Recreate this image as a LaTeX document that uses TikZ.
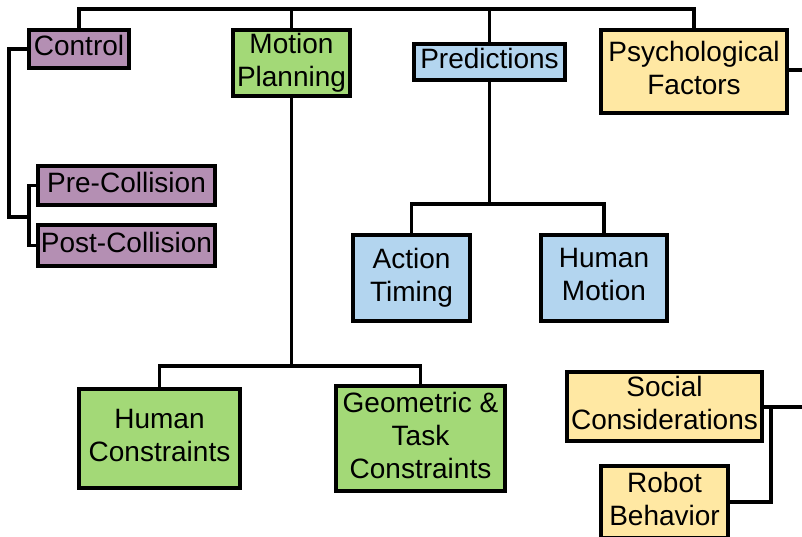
\documentclass[tikz,border=0pt]{standalone}
\usepackage{fontspec}
\setmainfont{Liberation Sans}
\definecolor{cpurple}{HTML}{B48FB3}
\definecolor{cgreen}{HTML}{A3D977}
\definecolor{cblue}{HTML}{B3D5EF}
\definecolor{cyellow}{HTML}{FFE8A3}
\begin{document}
\begin{tikzpicture}[x=1pt,y=-1pt,
  box/.style={draw=black, line width=4.2pt, rectangle, inner sep=0pt, align=center,
    text depth=7pt, font=\fontsize{28}{33}\selectfont},
  link/.style={draw=black, line width=3.6pt}]
\useasboundingbox (0,0) rectangle (802,537);
\node[box, fill=cpurple, minimum width=100pt, minimum height=38pt] (ctrl) at (79,49) {Control};
\node[box, fill=cgreen, minimum width=117pt, minimum height=66pt] (mp) at (291.5,63) {Motion\\Planning};
\node[box, fill=cblue, minimum width=151pt, minimum height=36pt] (pred) at (489.5,62) {Predictions};
\node[box, fill=cyellow, minimum width=186pt, minimum height=83pt] (psy) at (694,71.5) {Psychological\\Factors};
\node[box, fill=cpurple, minimum width=177pt, minimum height=39pt] (pre) at (126.5,185.5) {Pre-Collision};
\node[box, fill=cpurple, minimum width=177pt, minimum height=41pt] (post) at (126.5,245.5) {Post-Collision};
\node[box, fill=cblue, minimum width=117pt, minimum height=86pt] (at) at (411.5,278) {Action\\Timing};
\node[box, fill=cblue, minimum width=126pt, minimum height=86pt] (hm) at (604,278) {Human\\Motion};
\node[box, fill=cgreen, minimum width=161pt, minimum height=99pt] (hc) at (159.5,438.5) {Human\\Constraints};
\node[box, fill=cgreen, minimum width=169pt, minimum height=105pt] (geo) at (420.5,438.5) {Geometric \&\\Task\\Constraints};
\node[box, fill=cyellow, minimum width=195pt, minimum height=69pt] (soc) at (664.5,406.5) {Social\\Considerations};
\node[box, fill=cyellow, minimum width=127pt, minimum height=72pt] (rob) at (664.5,502) {Robot\\Behavior};
\coordinate (bus) at (0,9);
\coordinate (mpbus) at (0,366);
\coordinate (prbus) at (0,204);
\coordinate (cl) at (9,0);
\coordinate (br) at (29,217);
\coordinate (pr) at (802,70);
\coordinate (sr) at (802,407);
\coordinate (sb) at (771,407);
% top bus
\draw[link] (ctrl.north) |- (bus -| psy.north) -- (psy.north);
\draw[link] (mp.north) -- (mp.north |- bus);
\draw[link] (pred.north) -- (pred.north |- bus);
\draw[link] (psy.east |- pr) -- (pr);
% control bracket
\draw[link] (ctrl.west) -- (ctrl.west -| cl) |- (br);
\draw[link] (pre.west) -- (pre.west -| br) -- (post.west -| br) -- (post.west);
% motion planning
\draw[link] (mp.south) -- (mp.south |- mpbus);
\draw[link] (hc.north) |- (mp.south |- mpbus) -| (geo.north);
% predictions
\draw[link] (pred.south) -- (pred.south |- prbus);
\draw[link] (at.north) |- (pred.south |- prbus) -| (hm.north);
% social
\draw[link] (soc.east |- sr) -- (sr);
\draw[link] (rob.east) -| (sb);
\end{tikzpicture}
\end{document}
